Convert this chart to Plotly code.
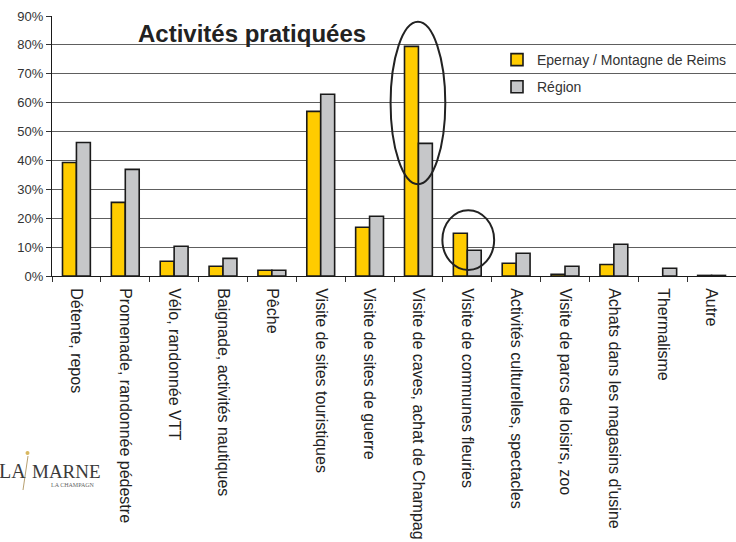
import plotly.graph_objects as go

categories = [
    "Détente, repos",
    "Promenade, randonnée pédestre",
    "Vélo, randonnée VTT",
    "Baignade, activités nautiques",
    "Pêche",
    "Visite de sites touristiques",
    "Visite de sites de guerre",
    "Visite de caves, achat de Champag",
    "Visite de communes fleuries",
    "Activités culturelles, spectacles",
    "Visite de parcs de loisirs, zoo",
    "Achats dans les magasins d'usine",
    "Thermalisme",
    "Autre",
]
epernay = [0.393, 0.255, 0.051, 0.034, 0.020, 0.570, 0.169, 0.795, 0.148, 0.044, 0.006, 0.040, None, 0.002]
region = [0.462, 0.369, 0.103, 0.061, 0.020, 0.629, 0.207, 0.459, 0.089, 0.079, 0.034, 0.110, 0.027, 0.002]
series_names = ["Epernay / Montagne de Reims", "Région"]
y_ticks = [0, 0.1, 0.2, 0.3, 0.4, 0.5, 0.6, 0.7, 0.8, 0.9]

W, H = 736, 542
ML, MR, MT, MB = 52, 0, 16, 266
PW, PH = W - ML - MR, H - MT - MB


def px(x):
    return (x - ML) / PW


def py(y):
    return (H - MB - y) / PH


FONT = "Arial, Liberation Sans, sans-serif"
SERIF = "Liberation Serif, DejaVu Serif, serif"

fig = go.Figure()
fig.add_trace(go.Bar(
    x=categories, y=epernay, name=series_names[0],
    marker=dict(color="#FFCC00", line=dict(color="#1a1a1a", width=1.6)),
    legendgroup="a",
))
fig.add_trace(go.Bar(
    x=categories, y=region, name=series_names[1],
    marker=dict(color="#C6C7C9", line=dict(color="#1a1a1a", width=1.6)),
    legendgroup="b",
))

shapes = [
    dict(type="circle", xref="x", yref="y", x0=6.43, x1=7.55, y0=0.318, y1=0.88,
         line=dict(color="#222222", width=2)),
    dict(type="circle", xref="x", yref="y", x0=7.49, x1=8.55, y0=0.021, y1=0.228,
         line=dict(color="#222222", width=2)),
    dict(type="line", xref="paper", yref="paper", x0=px(23), y0=py(490), x1=px(28), y1=py(456),
         line=dict(color="#b8a070", width=1)),
    dict(type="circle", xref="paper", yref="paper", x0=px(25.5), x1=px(29.5), y0=py(455), y1=py(451),
         fillcolor="#d9b860", line=dict(width=0)),
]

annotations = [
    dict(text="<b>Activités pratiquées</b>", xref="paper", yref="paper",
         x=px(136), y=py(33), xanchor="left", yanchor="middle", showarrow=False,
         font=dict(family=FONT, size=24, color="#222222")),
    dict(text="LA", xref="paper", yref="paper", x=px(-3), y=py(471), xanchor="left", yanchor="middle",
         showarrow=False, font=dict(family=SERIF, size=20, color="#3a3a3a")),
    dict(text="MARNE", xref="paper", yref="paper", x=px(30), y=py(471), xanchor="left", yanchor="middle",
         showarrow=False, font=dict(family=SERIF, size=19, color="#3a3a3a")),
    dict(text="LA CHAMPAGN", xref="paper", yref="paper", x=px(49), y=py(485), xanchor="left", yanchor="middle",
         showarrow=False, font=dict(family=SERIF, size=6, color="#666666")),
]

fig.update_layout(
    width=W, height=H,
    margin=dict(l=ML, r=MR, t=MT, b=MB, pad=0),
    paper_bgcolor="white", plot_bgcolor="white",
    template="none",
    barmode="group", bargap=0.43, bargroupgap=0,
    font=dict(family=FONT, size=13, color="#333333"),
    showlegend=True,
    legend=dict(x=px(497), y=py(44), xanchor="left", yanchor="top",
                bgcolor="rgba(0,0,0,0)", borderwidth=0, traceorder="grouped",
                tracegroupgap=6, font=dict(family=FONT, size=14, color="#333333")),
    shapes=shapes,
    annotations=annotations,
)
fig.update_xaxes(
    type="category", range=[-0.5, len(categories) - 0.5], automargin=False,
    tickangle=90, tickson="boundaries", ticks="outside", ticklen=5, tickcolor="#333333",
    ticklabelstandoff=8,
    showline=True, linecolor="#1a1a1a", linewidth=1, showgrid=False, zeroline=False,
    tickfont=dict(family=FONT, size=16, color="#222222"),
)
fig.update_yaxes(
    range=[0, 0.9], tickvals=y_ticks, tickformat=".0%", automargin=False,
    ticks="outside", ticklen=5, tickcolor="#333333",
    showline=True, linecolor="#1a1a1a", linewidth=1,
    showgrid=True, gridcolor="#5e5e5e", gridwidth=1, zeroline=False,
    tickfont=dict(family=FONT, size=13, color="#333333"),
)

fig.write_html(
    "out.html",
    config={"displayModeBar": False},
    post_script="document.body.style.margin='0';document.body.style.overflow='hidden';",
)
